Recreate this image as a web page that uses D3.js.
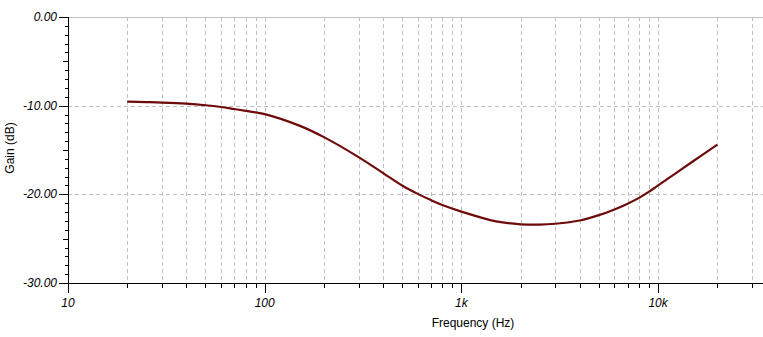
<!DOCTYPE html>
<html>
<head>
<meta charset="utf-8">
<script src="https://cdn.jsdelivr.net/npm/d3@7"></script>
<style>
  body { margin: 0; background: #fff; }
  svg { display: block; }
</style>
</head>
<body>
<div id="chart"></div>
<script>
// gain curve
const freqs = [20, 25, 30, 40, 50, 60, 70, 80, 100, 150, 200, 300, 400, 500, 600, 700, 800,
    1000, 1500, 2000, 2500, 3000, 4000, 5000, 6000, 7000, 8000, 9000, 10000, 15000, 20000];
const gains = [-9.55, -9.6, -9.65, -9.78, -9.95, -10.15, -10.38, -10.58, -10.95, -12.25, -13.55,
    -15.8, -17.6, -19.0, -19.95, -20.65, -21.2, -21.95, -23.05, -23.38, -23.42, -23.32, -22.95,
    -22.35, -21.7, -21.05, -20.4, -19.7, -19.0, -16.3, -14.4];
const yTicks = [0, -10, -20, -30];
const xTickLabels = [[10, '10'], [100, '100'], [1000, '1k'], [10000, '10k']];

const W = 763, H = 337;
const padL = 68, padT = 17, plotB = 283;

const svg = d3.select('#chart').append('svg')
    .attr('width', W)
    .attr('height', H);

const x = d3.scaleLog().domain([10, 10000]).range([padL, padL + 3 * 196.7]);
const y = d3.scaleLinear().domain([-30, 0]).range([plotB, padT]);

// grid positions: 1..9 x each decade
let gridF = [];
for (let d = 10; d <= 10000; d *= 10) {
    for (let m = 1; m <= 9; m++) gridF.push(d * m);
}
gridF = gridF.filter(f => x(f) <= W);

svg.append('g')
    .selectAll('line')
    .data(gridF.filter(f => f > 10))
    .join('line')
    .attr('x1', d => Math.round(x(d)) + 0.5)
    .attr('x2', d => Math.round(x(d)) + 0.5)
    .attr('y1', padT)
    .attr('y2', plotB)
    .style('stroke', '#c0c0c0')
    .style('stroke-dasharray', '4,3');

svg.append('g')
    .selectAll('line')
    .data([-10, -20])
    .join('line')
    .attr('x1', padL)
    .attr('x2', W)
    .attr('y1', d => Math.round(y(d)) + 0.5)
    .attr('y2', d => Math.round(y(d)) + 0.5)
    .style('stroke', '#c0c0c0')
    .style('stroke-dasharray', '4,3');

// top border
svg.append('line')
    .attr('x1', padL).attr('x2', W)
    .attr('y1', padT + 0.5).attr('y2', padT + 0.5)
    .style('stroke', '#c0c0c0')
    .style('stroke-width', 1);

// curve
const line = d3.line()
    .x((d, i) => x(freqs[i]))
    .y(d => y(d))
    .curve(d3.curveCatmullRom.alpha(0.5));

svg.append('path')
    .datum(gains)
    .attr('d', line)
    .style('fill', 'none')
    .style('stroke', '#6e0a0a')
    .style('stroke-width', 2.2);

// y axis
const ax = svg.append('g').style('stroke', '#000');
ax.append('line')
    .attr('x1', padL + 0.5).attr('x2', padL + 0.5)
    .attr('y1', padT).attr('y2', plotB + 1);

for (let v = 0; v >= -30; v--) {
    let len = v % 10 === 0 ? 9 : (v % 5 === 0 ? 5 : 3);
    let yy = Math.round(y(v)) + 0.5;
    ax.append('line')
        .attr('x1', padL - len).attr('x2', padL)
        .attr('y1', yy).attr('y2', yy);
}

// x axis
ax.append('line')
    .attr('x1', padL).attr('x2', W)
    .attr('y1', plotB + 0.5).attr('y2', plotB + 0.5);

gridF.forEach(f => {
    let len = [10, 100, 1000, 10000].includes(f) ? 10 : 5;
    let xx = Math.round(x(f)) + 0.5;
    ax.append('line')
        .attr('x1', xx).attr('x2', xx)
        .attr('y1', plotB).attr('y2', plotB + len);
});

const font = '"Liberation Sans", Arial, sans-serif';

svg.selectAll('.ylab')
    .data(yTicks)
    .join('text')
    .attr('class', 'ylab')
    .attr('x', 57)
    .attr('y', d => y(d) + 4)
    .attr('text-anchor', 'end')
    .style('font-family', font)
    .style('font-style', 'italic')
    .style('font-size', '12px')
    .text(d => d.toFixed(2));

svg.selectAll('.xlab')
    .data(xTickLabels)
    .join('text')
    .attr('class', 'xlab')
    .attr('x', d => x(d[0]))
    .attr('y', 307)
    .attr('text-anchor', 'middle')
    .style('font-family', font)
    .style('font-style', 'italic')
    .style('font-size', '12px')
    .text(d => d[1]);

svg.append('text')
    .attr('x', 473)
    .attr('y', 327)
    .attr('text-anchor', 'middle')
    .style('font-family', font)
    .style('font-size', '12px')
    .text('Frequency (Hz)');

svg.append('text')
    .attr('transform', 'translate(14,148) rotate(-90)')
    .attr('text-anchor', 'middle')
    .style('font-family', font)
    .style('font-size', '12px')
    .text('Gain (dB)');
</script>
</body>
</html>
